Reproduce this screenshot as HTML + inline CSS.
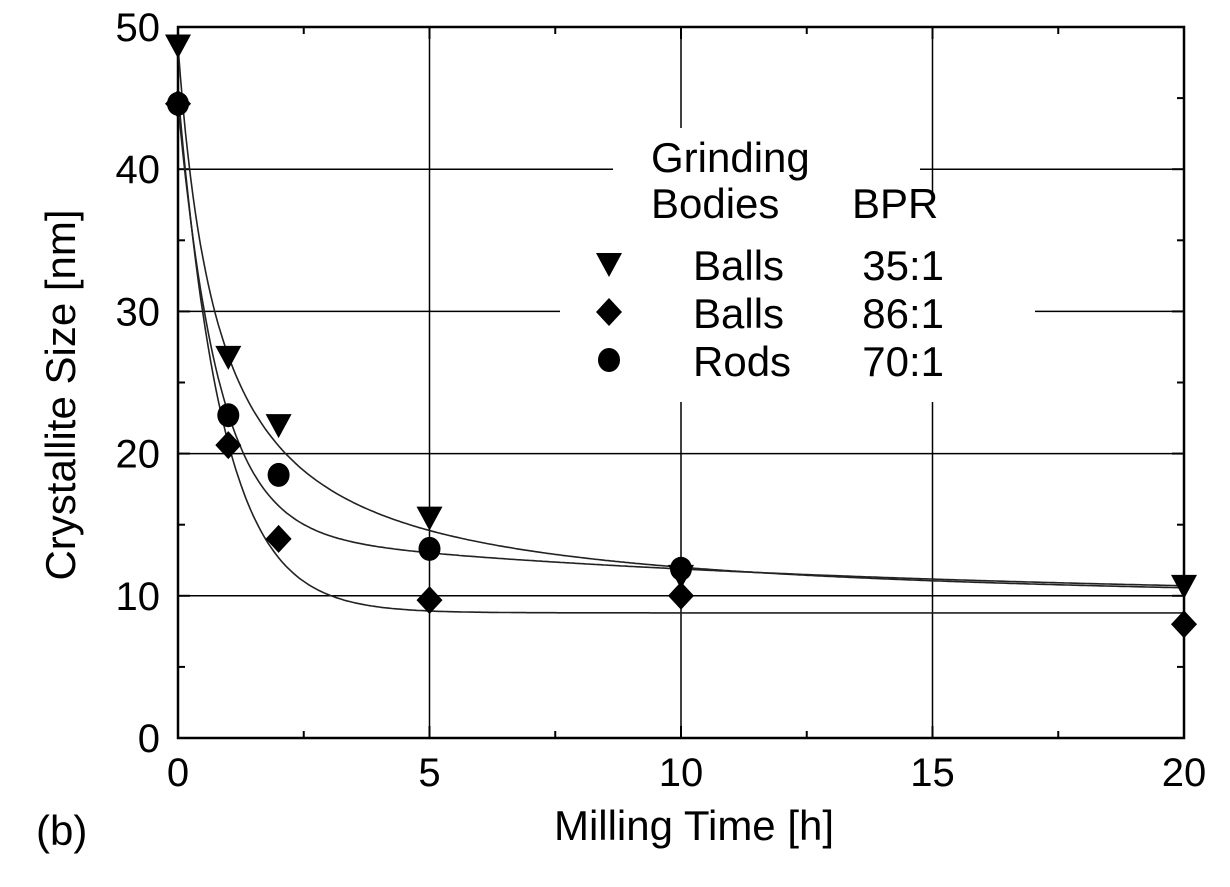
<!DOCTYPE html>
<html><head><meta charset="utf-8"><style>
body{margin:0;background:#fff}
svg text{font-family:"Liberation Sans",sans-serif;fill:#000}
</style></head><body>
<svg id="c" width="1230" height="882" viewBox="0 0 1230 882" xmlns="http://www.w3.org/2000/svg"></svg>
<script>
const xTicks=[0,5,10,15,20];
const yTicks=[0,10,20,30,40,50];
const seriesNames=["Balls 35:1","Balls 86:1","Rods 70:1"];
const timesTri=[0,1,2,5,10,20];
const valuesTri=[48.7,26.8,22,15.5,11.4,10.7];
const timesDia=[0,1,2,5,10,20];
const valuesDia=[44.6,20.6,14,9.7,10,8];
const timesCir=[0,1,2,5,10];
const valuesCir=[44.6,22.7,18.5,13.3,11.9];
// fit parameters: [yInf, amp1, tau1, amp2, tau2]
const fitTri=[9,39.7,0.82];
const fitDia=[8.8,36.7,0.89,0,1];
const fitCir=[9.8,30,0.8,4.8,12];
const L=178,R=1184,T=27,B=738;
const X=v=>L+(v-0)/20*(R-L);
const Y=v=>B-(v/50)*(B-T);
const svg=document.getElementById('c');
const NS="http://www.w3.org/2000/svg";
function mk(tag,attrs,parent){const e=document.createElementNS(NS,tag);for(const k in attrs)e.setAttribute(k,attrs[k]);(parent||svg).appendChild(e);return e;}
const grid=mk('g',{});


xTicks.forEach(t=>{if(t>0&&t<20)mk('line',{x1:X(t),x2:X(t),y1:T,y2:B,stroke:'#000','stroke-width':1.5},grid);});
yTicks.forEach(t=>{if(t>0&&t<50)mk('line',{x1:L,x2:R,y1:Y(t),y2:Y(t),stroke:'#000','stroke-width':1.5},grid);});
mk('rect',{x:613,y:128,width:307,height:80,fill:'#fff'});
mk('rect',{x:560,y:195,width:475,height:207,fill:'#fff'});
const frame=mk('rect',{x:L,y:T,width:R-L,height:B-T,fill:'none',stroke:'#000','stroke-width':2.5});


for(let v=0;v<=20;v+=2.5){const len=(v%5===0)?12:7;
 mk('line',{x1:X(v),x2:X(v),y1:B,y2:B-len,stroke:'#000','stroke-width':2});
 mk('line',{x1:X(v),x2:X(v),y1:T,y2:T+len,stroke:'#000','stroke-width':2});}
for(let v=0;v<=50;v+=5){const len=(v%10===0)?12:7;
 mk('line',{x1:L,x2:L+len,y1:Y(v),y2:Y(v),stroke:'#000','stroke-width':2});
 mk('line',{x1:R,x2:R-len,y1:Y(v),y2:Y(v),stroke:'#000','stroke-width':2});}
xTicks.forEach(t=>{const e=mk('text',{x:X(t),y:786,'font-size':40,'text-anchor':'middle'});e.textContent=t;
 });
yTicks.forEach(t=>{const e=mk('text',{x:160,y:Y(t)+14,'font-size':40,'text-anchor':'end'});e.textContent=t;
 });
let e=mk('text',{x:694,y:840,'font-size':42,'text-anchor':'middle'});e.textContent='Milling Time [h]';

e=mk('text',{x:0,y:0,'font-size':42,'text-anchor':'middle',transform:'translate(75,395) rotate(-90)'});e.textContent='Crystallite Size [nm]';

e=mk('text',{x:36,y:845,'font-size':42});e.textContent='(b)';

function draw(f,name){let d='';for(let i=0;i<=400;i++){const t=i/20;const v=f(t);d+=(i?'L':'M')+X(t).toFixed(1)+','+Y(v).toFixed(1);}
 const c=mk('path',{d:d,fill:'none',stroke:'#222','stroke-width':1.6});
 }
draw(t=>fitTri[0]+fitTri[1]/(1+t/fitTri[2]),'fit-curve-balls-35');
draw(t=>fitDia[0]+fitDia[1]*Math.exp(-t/fitDia[2])+fitDia[3]*Math.exp(-t/fitDia[4]),'fit-curve-balls-86');
draw(t=>fitCir[0]+fitCir[1]*Math.exp(-t/fitCir[2])+fitCir[3]*Math.exp(-t/fitCir[4]),'fit-curve-rods-70');
function tri(x,y,g){return mk('polygon',{points:`${x-13},${y-11} ${x+13},${y-11} ${x},${y+13}`,fill:'#000'},g);}
function dia(x,y,g){return mk('polygon',{points:`${x},${y-14} ${x+13},${y} ${x},${y+14} ${x-13},${y}`,fill:'#000'},g);}
function cir(x,y,g){return mk('ellipse',{cx:x,cy:y,rx:11,ry:12,fill:'#000'},g);}
function series(ts,vs,fn,name){const g=mk('g',{});
 ts.forEach((t,i)=>{const m=fn(X(t),Y(vs[i]),g);});}
series(timesDia,valuesDia,dia,'series-balls-86');
series(timesCir,valuesCir,cir,'series-rods-70');
series(timesTri,valuesTri,tri,'series-balls-35');
const lg=mk('g',{});
e=mk('text',{x:651,y:172,'font-size':42},lg);e.textContent='Grinding';
e=mk('text',{x:651,y:218,'font-size':42},lg);e.textContent='Bodies';
e=mk('text',{x:852,y:218,'font-size':42},lg);e.textContent='BPR';
const rows=[[268,tri],[316,dia],[364,cir]];
rows.forEach((r,i)=>{const [ly,fn]=r;fn(609,ly-4,lg);
 const parts=seriesNames[i].split(' ');
 let t=mk('text',{x:693,y:ly+12,'font-size':42},lg);t.textContent=parts[0];
 
 t=mk('text',{x:944,y:ly+12,'font-size':42,'text-anchor':'end'},lg);t.textContent=parts[1];});
</script>
</body></html>
